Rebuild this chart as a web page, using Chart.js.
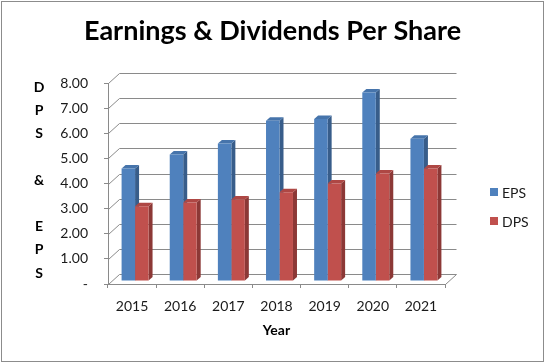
<!DOCTYPE html>
<html><head><meta charset="utf-8">
<script src="https://cdn.jsdelivr.net/npm/chart.js@4.4.1/dist/chart.umd.min.js"></script>
<style>html,body{margin:0;padding:0;background:#fff;overflow:hidden}#wrap{width:545px;height:363px;position:relative}</style>
</head><body><div id="wrap"><canvas id="c"></canvas></div>
<script>
const years = ['2015','2016','2017','2018','2019','2020','2021'];
const epsValues = [4.48, 5.03, 5.47, 6.38, 6.45, 7.50, 5.66];
const dpsValues = [2.98, 3.12, 3.24, 3.53, 3.88, 4.28, 4.48];
const seriesNames = ['EPS', 'DPS'];
const yMin = 0, yMax = 8, yStep = 1;
const yTitleLines = ['D','P','S','','&','','E','P','S'];
const titleText = 'Earnings & Dividends Per Share';
const xTitleText = 'Year';

const FONT = 'Lato, "Open Sans", sans-serif';
const GRID = '#8a8a8a';
const frontColors = ['#4F81BD', '#C0504D'];
const sideColors = ['#385D8A', '#8C3836'];
const topColors = ['#4674AB', '#AE4744'];
const WALL = {x: 11, y: -10};
const SHIFT = {x: 3, y: -3};
const BDEPTH = {x: 4, y: -3.5};

const threeD = {
  id: 'threeD',
  beforeDatasetsDraw(chart) {
    const ctx = chart.ctx, ys = chart.scales.y, area = chart.chartArea;
    ctx.save();
    ctx.strokeStyle = GRID; ctx.lineWidth = 1;
    ys.ticks.forEach(t => {
      const py = Math.round(ys.getPixelForValue(t.value)) + 0.5;
      ctx.beginPath();
      ctx.moveTo(area.left + 0.5, py);
      ctx.lineTo(area.left + WALL.x + 0.5, py + WALL.y);
      ctx.lineTo(area.right + WALL.x + 0.5, py + WALL.y);
      ctx.stroke();
    });
    const pb = Math.round(ys.getPixelForValue(yMin)) + 0.5;
    ctx.beginPath();
    ctx.moveTo(area.right + 0.5, pb);
    ctx.lineTo(area.right + WALL.x + 0.5, pb + WALL.y);
    ctx.stroke();
    ctx.restore();

    ctx.save();
    ctx.translate(SHIFT.x, SHIFT.y);
    chart.data.datasets.forEach((ds, di) => {
      const meta = chart.getDatasetMeta(di);
      meta.data.forEach(el => {
        const {x, y, base, width} = el.getProps(['x','y','base','width'], true);
        const l = x - width / 2, r = x + width / 2;
        ctx.fillStyle = sideColors[di];
        ctx.beginPath();
        ctx.moveTo(r, y); ctx.lineTo(r + BDEPTH.x, y + BDEPTH.y);
        ctx.lineTo(r + BDEPTH.x, base + BDEPTH.y); ctx.lineTo(r, base);
        ctx.closePath(); ctx.fill();
        ctx.fillStyle = topColors[di];
        ctx.beginPath();
        ctx.moveTo(l, y); ctx.lineTo(l + BDEPTH.x, y + BDEPTH.y);
        ctx.lineTo(r + BDEPTH.x, y + BDEPTH.y); ctx.lineTo(r, y);
        ctx.closePath(); ctx.fill();
      });
    });
  },
  afterDatasetsDraw(chart) {
    chart.ctx.restore();
  },
  afterDraw(chart) {
    const ctx = chart.ctx;
    ctx.save();
    ctx.fillStyle = '#000';
    ctx.font = 'bold 14px ' + FONT;
    ctx.textAlign = 'center'; ctx.textBaseline = 'middle';
    yTitleLines.forEach((s, i) => ctx.fillText(s, 39, 87 + i * 23.25));
    // legend
    ctx.font = '14px ' + FONT;
    ctx.textAlign = 'left';
    seriesNames.forEach((n, i) => {
      const cy = 192 + i * 29;
      ctx.fillStyle = frontColors[i];
      ctx.fillRect(490, cy - 4, 8, 8);
      ctx.fillStyle = '#1a1a1a';
      ctx.fillText(n, 502, cy + 1);
    });
    ctx.strokeStyle = '#8c8c8c'; ctx.lineWidth = 1;
    ctx.strokeRect(1.5, 1.5, 542, 360);
    ctx.restore();
  }
};

new Chart(document.getElementById('c'), {
  type: 'bar',
  data: {
    labels: years,
    datasets: [
      {label: seriesNames[0], data: epsValues, backgroundColor: frontColors[0], borderWidth: 0},
      {label: seriesNames[1], data: dpsValues, backgroundColor: frontColors[1], borderWidth: 0}
    ]
  },
  options: {
    responsive: true, maintainAspectRatio: false, animation: false, devicePixelRatio: 1,
    layout: {padding: {left: 0, right: 0, top: 0, bottom: 0}},
    datasets: {bar: {categoryPercentage: 0.56, barPercentage: 1.0, clip: false}},
    plugins: {
      legend: {display: false},
      tooltip: {enabled: false},
      title: {display: true, text: titleText, color: '#000',
        font: {family: FONT, size: 27, weight: 'bold'}, padding: {top: 15, bottom: 35.6}}
    },
    scales: {
      x: {
        offset: true,
        grid: {display: true, drawOnChartArea: false, drawTicks: true, tickLength: 4, color: GRID, offset: true},
        border: {display: true, color: GRID},
        ticks: {color: '#1a1a1a', font: {family: FONT, size: 14}, padding: 10, maxRotation: 0},
        title: {display: true, text: xTitleText, color: '#000', font: {family: FONT, size: 14, weight: 'bold'}, padding: {top: 0, bottom: 24}},
        afterFit(s) { s.height = 79; }
      },
      y: {
        min: yMin, max: yMax,
        grid: {display: true, drawOnChartArea: false, drawTicks: true, tickLength: 4, color: GRID},
        border: {display: true, color: GRID},
        ticks: {stepSize: yStep, color: '#1a1a1a', font: {family: FONT, size: 14}, padding: 16,
          callback: v => v === 0 ? '-' : Number(v).toFixed(2)},
        afterFit(s) { s.width = 108; }
      },
      yRight: {
        position: 'right', display: true,
        grid: {display: false, drawTicks: false}, border: {display: false},
        ticks: {display: false},
        afterFit(s) { s.width = 100; }
      }
    }
  },
  plugins: [threeD]
});
</script></body></html>
